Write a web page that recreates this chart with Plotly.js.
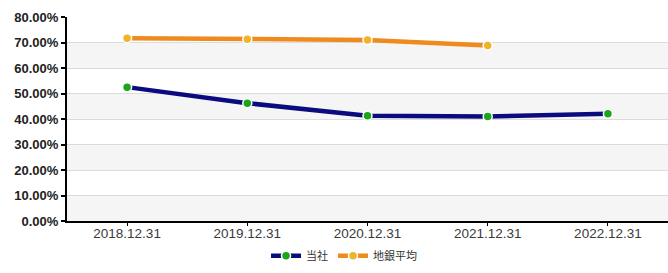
<!DOCTYPE html>
<html>
<head>
<meta charset="utf-8">
<script src="https://cdn.plot.ly/plotly-3.0.1.min.js"></script>
<style>html,body{margin:0;padding:0;background:#fff;}#chart{width:668px;height:273px;}</style>
</head>
<body>
<div id="chart"></div>
<script>
const categories = ["2018.12.31", "2019.12.31", "2020.12.31", "2021.12.31", "2022.12.31"];
const companyName = "当社";
const companyValues = [52.5, 46.2, 41.3, 41.0, 42.1];
const avgName = "地銀平均";
const avgValues = [71.7, 71.3, 71.0, 68.8, null];
const yTicks = [0, 10, 20, 30, 40, 50, 60, 70, 80];

const bands = [];
for (let i = 0; i + 1 < yTicks.length; i += 2) {
  bands.push({type: 'rect', xref: 'paper', yref: 'y', x0: 0, x1: 1, y0: yTicks[i], y1: yTicks[i + 1],
    fillcolor: '#f5f5f5', line: {width: 0}, layer: 'below'});
}

const traces = [
  {x: categories, y: companyValues, name: companyName, type: 'scatter', mode: 'lines+markers',
   line: {color: '#0b0b80', width: 4.5},
   marker: {color: '#1aa51a', size: 9, line: {color: '#ffffff', width: 1.5}}},
  {x: categories, y: avgValues, name: avgName, type: 'scatter', mode: 'lines+markers',
   line: {color: '#ef8a1f', width: 4.5},
   marker: {color: '#f0b428', size: 9, line: {color: '#ffffff', width: 1.5}}}
];

const layout = {
  width: 668, height: 273,
  margin: {l: 67, r: 0, t: 17, b: 52},
  paper_bgcolor: '#ffffff', plot_bgcolor: '#ffffff',
  showlegend: true,
  legend: {orientation: 'h', xref: 'container', x: 0.515, xanchor: 'center', yref: 'container', y: 0.01, yanchor: 'bottom',
    bgcolor: 'rgba(0,0,0,0)',
    font: {family: 'Noto Sans CJK JP', size: 11, color: '#333'}, itemwidth: 30},
  shapes: bands,
  xaxis: {type: 'category', range: [-0.5, 4.5], showgrid: false, zeroline: false,
    showline: true, linecolor: '#000', linewidth: 2,
    ticks: 'outside', ticklen: 3, tickcolor: '#000', tickwidth: 1, ticklabelstandoff: -4,
    tickfont: {family: 'Liberation Sans, Arial', size: 13.5, color: '#3a3a3a'}, fixedrange: true},
  yaxis: {range: [0, 80], tickvals: yTicks, ticktext: yTicks.map(v => v.toFixed(2) + '%'),
    showgrid: true, gridcolor: '#dcdcdc', gridwidth: 1, zeroline: false,
    showline: true, linecolor: '#000', linewidth: 2,
    ticks: 'outside', ticklen: 4, tickcolor: '#000', tickwidth: 2, ticklabelstandoff: 0,
    tickfont: {family: 'Liberation Sans, Arial', size: 13, color: '#222', weight: 'bold'}, fixedrange: true}
};

Plotly.newPlot('chart', traces, layout, {displayModeBar: false, staticPlot: true});
</script>
</body>
</html>
